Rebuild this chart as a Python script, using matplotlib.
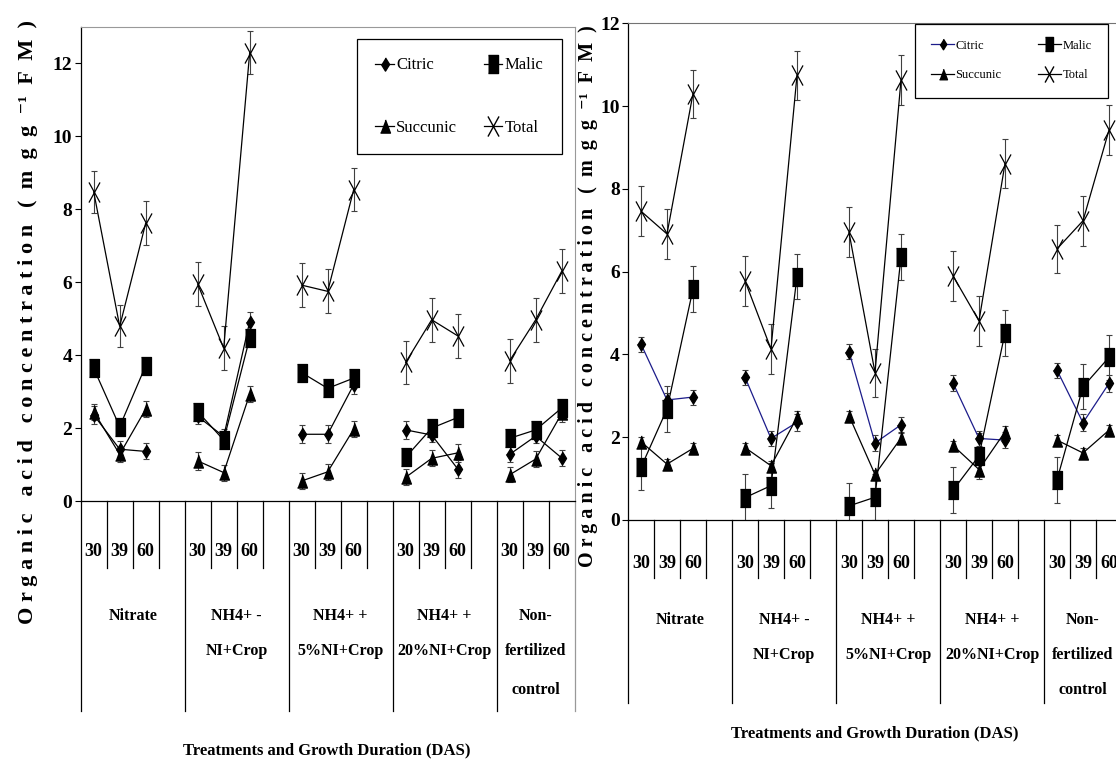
import numpy as np
import matplotlib
matplotlib.use('Agg')
import matplotlib.pyplot as plt
from matplotlib.path import Path
from matplotlib.lines import Line2D

plt.rcParams['font.family'] = ['Liberation Serif', 'DejaVu Serif']

# category labels
days = ['30', '39', '60']
treatments = [['Nitrate'],
              ['NH4+ -', 'NI+Crop'],
              ['NH4+ +', '5%NI+Crop'],
              ['NH4+ +', '20%NI+Crop'],
              ['Non-', 'fertilized', 'control']]
series_names = ['Citric', 'Malic', 'Succunic', 'Total']

# left panel values (mg g-1 FM), 5 treatments x 3 days
left_citric = [2.36, 1.42, 1.36, 2.32, 1.77, 4.92, 1.83, 1.83, 3.19, 1.95, 1.81, 0.88, 1.28, 1.78, 1.18]
left_citric_err = [0.25, 0.22, 0.22, 0.22, 0.2, 0.25, 0.25, 0.25, 0.25, 0.25, 0.2, 0.25, 0.22, 0.2, 0.22]
left_malic = [3.64, 2.04, 3.71, 2.45, 1.67, 4.47, 3.52, 3.09, 3.37, 1.2, 2.0, 2.29, 1.72, 1.95, 2.55]
left_malic_err = [0.2, 0.2, 0.2, 0.2, 0.2, 0.2, 0.2, 0.2, 0.2, 0.2, 0.2, 0.2, 0.2, 0.2, 0.2]
left_succ = [2.45, 1.28, 2.52, 1.1, 0.78, 2.93, 0.55, 0.8, 1.97, 0.65, 1.17, 1.32, 0.72, 1.15, 2.4]
left_succ_err = [0.22, 0.2, 0.22, 0.25, 0.22, 0.22, 0.22, 0.22, 0.22, 0.22, 0.22, 0.25, 0.2, 0.22, 0.22]
left_total = [8.48, 4.79, 7.62, 5.95, 4.19, 12.3, 5.92, 5.75, 8.54, 3.8, 4.97, 4.53, 3.85, 4.97, 6.3]
left_total_err = [0.58, 0.58, 0.6, 0.6, 0.6, 0.6, 0.6, 0.6, 0.6, 0.6, 0.6, 0.6, 0.6, 0.6, 0.6]

# right panel values
right_citric = [4.25, 2.9, 2.97, 3.45, 1.97, 2.36, 4.07, 1.86, 2.3, 3.31, 1.97, 1.93, 3.62, 2.35, 3.3]
right_citric_err = [0.18, 0.18, 0.18, 0.18, 0.18, 0.2, 0.18, 0.2, 0.18, 0.2, 0.18, 0.2, 0.18, 0.2, 0.2]
right_malic = [1.27, 2.68, 5.58, 0.54, 0.83, 5.88, 0.34, 0.55, 6.36, 0.72, 1.55, 4.52, 0.97, 3.22, 3.93]
right_malic_err = [0.55, 0.55, 0.55, 0.56, 0.55, 0.55, 0.55, 0.55, 0.55, 0.56, 0.55, 0.55, 0.55, 0.55, 0.55]
right_succ = [1.89, 1.35, 1.73, 1.75, 1.31, 2.48, 2.52, 1.1, 1.98, 1.8, 1.22, 2.13, 1.93, 1.62, 2.17]
right_succ_err = [0.12, 0.12, 0.12, 0.12, 0.12, 0.15, 0.12, 0.12, 0.12, 0.12, 0.12, 0.15, 0.12, 0.12, 0.12]
right_total = [7.46, 6.91, 10.3, 5.78, 4.13, 10.74, 6.95, 3.56, 10.63, 5.9, 4.81, 8.61, 6.55, 7.23, 9.42]
right_total_err = [0.6, 0.6, 0.58, 0.6, 0.6, 0.6, 0.6, 0.58, 0.6, 0.6, 0.6, 0.6, 0.58, 0.6, 0.6]

# markers (tall, like the squeezed excel ones)
m_diamond = [(0, 1), (0.62, 0), (0, -1), (-0.62, 0)]
m_rect = [(-0.53, -1), (0.53, -1), (0.53, 1), (-0.53, 1)]
m_tri = [(0, 1), (0.75, -1), (-0.75, -1)]
m_x = Path([(-0.55, -1), (0.55, 1), (-0.55, 1), (0.55, -1)],
           [Path.MOVETO, Path.LINETO, Path.MOVETO, Path.LINETO])
markers = [m_diamond, m_rect, m_tri, m_x]
msizes = [9.5, 12.5, 9.5, 14.5]

W, H = 1116, 765
fig = plt.figure(figsize=(W / 100, H / 100), dpi=100)

# slot positions: 3 days + one blank per treatment, last blank dropped
xpos = [4 * g + d for g in range(5) for d in range(3)]


def expand(vals):
    arr = np.full(19, np.nan)
    arr[xpos] = vals
    return arr


def px_axes(left, top, right, bottom):
    return fig.add_axes([left / W, 1 - bottom / H, (right - left) / W, (bottom - top) / H])


def draw_panel(ax, data, errs, ymax, citric_color, frame_color, zero_px, top_px,
               short_px, long_px, day_px, group_px, tick_fs):
    scale = (zero_px - top_px)
    for i in range(4):
        ax.errorbar(xpos, data[i], yerr=errs[i], fmt='none', ecolor='0.25',
                    elinewidth=0.8, capsize=2.2, capthick=0.8, zorder=2)
        lc = citric_color if i == 0 else 'black'
        ax.plot(np.arange(19), expand(data[i]), color=lc, lw=0.9, zorder=3)
        ax.plot(xpos, data[i], ls='none', marker=markers[i], ms=msizes[i],
                mfc='black', mec='black', mew=0.9, zorder=4)

    ax.set_xlim(-0.5, 18.5)
    ax.set_ylim(0, ymax)
    ax.set_yticks(range(0, ymax + 1, 2))
    ax.set_xticks([])
    ax.tick_params(axis='y', direction='out', length=4, width=0.8, pad=2,
                   labelsize=tick_fs)
    for lab in ax.get_yticklabels():
        lab.set_fontweight('bold')
    ax.spines['left'].set_linewidth(0.9)
    ax.spines['bottom'].set_linewidth(0.9)
    ax.spines['top'].set_color(frame_color)
    ax.spines['right'].set_color(frame_color)

    # multi-level category axis below the plot
    tr = ax.get_xaxis_transform()
    y_short = -(short_px - zero_px) / scale
    y_long = -(long_px - zero_px) / scale
    for k in range(0, 19):
        yb = y_long if k % 4 == 0 else y_short
        ax.plot([k - 0.5, k - 0.5], [0, yb], color='black', lw=0.9,
                transform=tr, clip_on=False)
    ax.plot([18.5, 18.5], [0, y_long], color=frame_color, lw=0.9,
            transform=tr, clip_on=False)
    y_day = -(day_px - zero_px) / scale
    for j, x in enumerate(xpos):
        ax.text(x, y_day, days[j % 3], transform=tr, ha='center', va='center',
                fontsize=13, fontweight='bold')
    for g, lines in enumerate(treatments):
        xc = 4 * g + 1.5 if g < 4 else 17
        for n, line in enumerate(lines):
            yl = -(group_px[n] - zero_px) / scale
            ax.text(xc, yl, line, transform=tr, ha='center', va='center',
                    fontsize=11.5, fontweight='bold')


def add_legend(ax, citric_color, x_px, y_px, fs, ls, bp, hl, cs, mscale):
    handles = []
    for i in range(4):
        lc = citric_color if i == 0 else 'black'
        handles.append(Line2D([], [], color=lc, lw=0.9, marker=markers[i],
                              ms=msizes[i] * mscale, mfc='black', mec='black'))
    order = [0, 2, 1, 3]
    leg = ax.legend([handles[i] for i in order], [series_names[i] for i in order],
                    ncol=2, loc='upper left', bbox_to_anchor=(x_px / W, 1 - y_px / H),
                    bbox_transform=fig.transFigure, fontsize=fs, frameon=True,
                    fancybox=False, framealpha=1, edgecolor='black',
                    labelspacing=ls, borderpad=bp, handlelength=hl,
                    handletextpad=0.15, columnspacing=cs, borderaxespad=0)
    leg.get_frame().set_linewidth(0.9)


ylab = 'O r g a n i c   a c i d   c o n c e n t r a t i o n   (  m  g  g  \u207b\u00b9  F  M  )'
xlab = 'Treatments and Growth Duration (DAS)'

# left panel
ax1 = px_axes(80.7, 27, 574.7, 501)
draw_panel(ax1, [left_citric, left_malic, left_succ, left_total],
           [left_citric_err, left_malic_err, left_succ_err, left_total_err],
           13, 'black', '0.6', 501, 27, 568, 711, 552, [616, 651, 690], 14)
add_legend(ax1, 'black', 357, 39, 12, 2.8, 1.1, 1.1, 1.6, 1.0)
fig.text(28 / W, 1 - 322 / H, ylab, rotation=90, ha='center', va='center',
         fontsize=16, fontweight='bold')
fig.text(327 / W, 1 - 750 / H, xlab, ha='center', va='center',
         fontsize=12, fontweight='bold')

# right panel
ax2 = px_axes(628, 23.3, 1122, 520)
draw_panel(ax2, [right_citric, right_malic, right_succ, right_total],
           [right_citric_err, right_malic_err, right_succ_err, right_total_err],
           12, '#1c1c8a', '0.45', 520, 23.3, 578, 703, 563, [620, 655, 690], 14)
add_legend(ax2, '#1c1c8a', 915, 23.5, 9, 1.4, 1.3, 1.8, 2.9, 0.8)
fig.text(588 / W, 1 - 296 / H, ylab, rotation=90, ha='center', va='center',
         fontsize=14.5, fontweight='bold')
fig.text(875 / W, 1 - 733 / H, xlab, ha='center', va='center',
         fontsize=12, fontweight='bold')

fig.savefig('out.png', dpi=100)
